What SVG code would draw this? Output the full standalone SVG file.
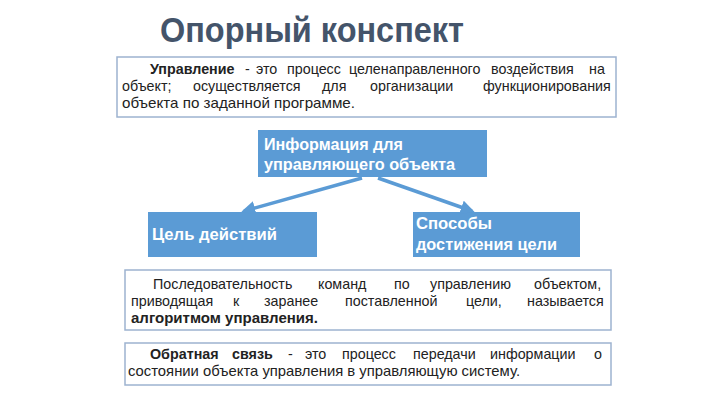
<svg xmlns="http://www.w3.org/2000/svg" width="720" height="405" viewBox="0 0 720 405">
<style>
.title{font-family:"Liberation Sans",Arial,sans-serif;font-weight:bold;font-size:35px;fill:#44546a}
.box{fill:#ffffff;stroke:#9db3d0;stroke-width:1.5}
.node{fill:#5b9bd5}
.nt{font-family:"Liberation Sans",Arial,sans-serif;font-weight:bold;font-size:16.5px;fill:#ffffff}
.bt{font-family:"Liberation Sans",Arial,sans-serif;font-size:14.3px;fill:#222222}
.b{font-weight:bold}
.conn{stroke:#5b9bd5;stroke-width:3.5;fill:none}
</style>
<defs>
<marker id="ah" viewBox="0 0 10 10" refX="8" refY="5" markerWidth="4" markerHeight="4" orient="auto" markerUnits="strokeWidth">
<path d="M0,0 L10,5 L0,10 z" fill="#5b9bd5"/>
</marker>
</defs>
<rect width="720" height="405" fill="#ffffff"/>
<text class="title" x="160" y="42" textLength="304" lengthAdjust="spacingAndGlyphs">Опорный конспект</text>

<g id="def-upravlenie">
<rect class="box" x="117" y="57" width="499" height="60"/>
<text class="bt" y="74"><tspan class="b" x="150">Управление</tspan><tspan x="245">-</tspan><tspan x="256">это</tspan><tspan x="287">процесс</tspan><tspan x="349">целенаправленного</tspan><tspan x="491">воздействия</tspan><tspan x="589">на</tspan></text>
<text class="bt" y="91"><tspan x="122">объект;</tspan><tspan x="193">осуществляется</tspan><tspan x="322">для</tspan><tspan x="370">организации</tspan><tspan x="483">функционирования</tspan></text>
<text class="bt" x="122" y="108" textLength="233" lengthAdjust="spacingAndGlyphs">объекта по заданной программе.</text>
</g>

<g id="node-info">
<rect class="node" x="258" y="130" width="229" height="47"/>
<text class="nt" x="264" y="150" textLength="139" lengthAdjust="spacingAndGlyphs">Информация для</text>
<text class="nt" x="264" y="170" textLength="191" lengthAdjust="spacingAndGlyphs">управляющего объекта</text>
</g>

<g id="node-goal">
<rect class="node" x="148" y="212" width="169" height="45"/>
<text class="nt" x="152" y="240" textLength="125" lengthAdjust="spacingAndGlyphs">Цель действий</text>
</g>

<g id="node-ways">
<rect class="node" x="413" y="212" width="167" height="45"/>
<text class="nt" x="416" y="229" textLength="76" lengthAdjust="spacingAndGlyphs">Способы</text>
<text class="nt" x="416" y="250" textLength="141" lengthAdjust="spacingAndGlyphs">достижения цели</text>
</g>

<g id="connectors">
<line class="conn" x1="362" y1="178" x2="244" y2="211" marker-end="url(#ah)"/>
<line class="conn" x1="378" y1="178" x2="472" y2="211" marker-end="url(#ah)"/>
</g>

<g id="def-algorithm">
<rect class="box" x="125" y="270" width="486" height="60"/>
<text class="bt" y="289"><tspan x="153">Последовательность</tspan><tspan x="318">команд</tspan><tspan x="394">по</tspan><tspan x="430">управлению</tspan><tspan x="534">объектом,</tspan></text>
<text class="bt" y="306"><tspan x="131">приводящая</tspan><tspan x="233">к</tspan><tspan x="264">заранее</tspan><tspan x="345">поставленной</tspan><tspan x="466">цели,</tspan><tspan x="527">называется</tspan></text>
<text class="bt b" x="131" y="323" textLength="187" lengthAdjust="spacingAndGlyphs">алгоритмом управления.</text>
</g>

<g id="def-feedback">
<rect class="box" x="125" y="343" width="486" height="42"/>
<text class="bt" y="359"><tspan class="b" x="150">Обратная</tspan><tspan class="b" x="232">связь</tspan><tspan x="288">-</tspan><tspan x="305">это</tspan><tspan x="342">процесс</tspan><tspan x="413">передачи</tspan><tspan x="490">информации</tspan><tspan x="594">о</tspan></text>
<text class="bt" x="128" y="376" textLength="392" lengthAdjust="spacingAndGlyphs">состоянии объекта управления в управляющую систему.</text>
</g>
</svg>
